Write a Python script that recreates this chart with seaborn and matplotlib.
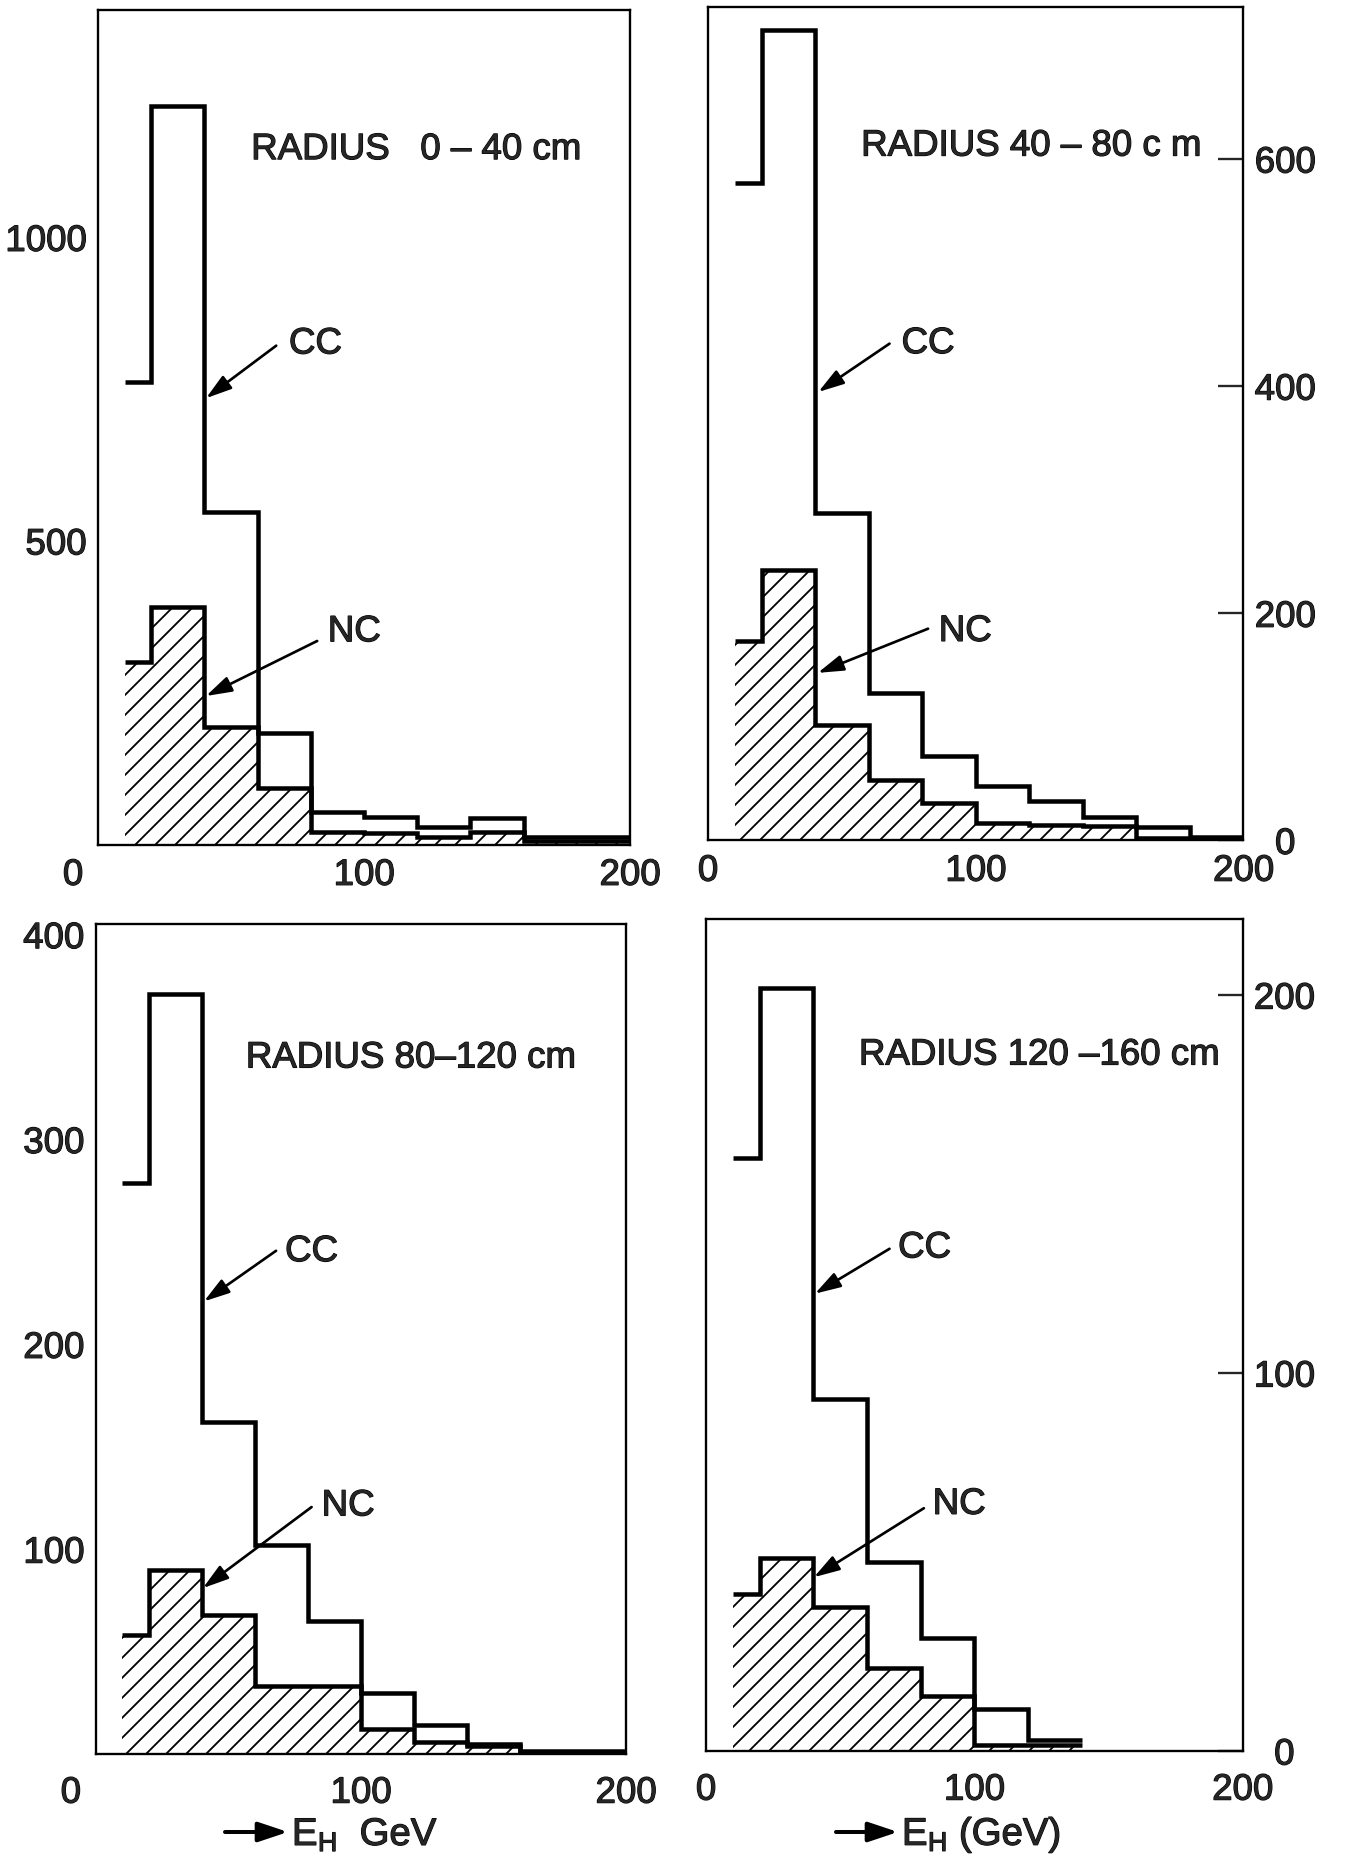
import numpy as np
import pandas as pd
import matplotlib
matplotlib.use("Agg")
import matplotlib.pyplot as plt
import matplotlib.patheffects as pe
import seaborn as sns
from matplotlib.transforms import ScaledTranslation

# ---------------- data ----------------
edges_r1 = [10, 20, 40, 60, 80, 100, 120, 140, 160, 200]
cc_r1 = [761, 1217, 547, 183, 54, 45, 29, 43, 13]
nc_r1 = [301, 392, 194, 93, 20, 19, 13, 20, 5]

edges_r2 = [10, 20, 40, 60, 80, 100, 120, 140, 160, 180, 200]
cc_r2 = [579, 714, 288, 130, 74, 48, 35, 21, 12, 3]
nc_r2 = [176, 238, 102, 53, 33, 15, 14, 13, 2, 1]

edges_r3 = [10, 20, 40, 60, 80, 100, 120, 140, 160, 200]
cc_r3 = [279, 371, 162, 102, 65, 30, 14, 5, 1.5]
nc_r3 = [58, 90, 68, 33, 33, 12, 6, 4, 0.5]

edges_r4 = [10, 20, 40, 60, 80, 100, 120, 140]
cc_r4 = [157, 202, 93, 50, 30, 11, 3]
nc_r4 = [41.5, 51, 38, 22, 14.5, 1.5, 1.5]

titles = ["RADIUS   0 – 40 cm", "RADIUS 40 – 80 c m", "RADIUS 80–120 cm", "RADIUS 120 –160 cm"]
yticks_list = [[500, 1000], [0, 200, 400, 600], [100, 200, 300, 400], [0, 100, 200]]
ytop_list = [1374, 734, 405, 220]
xticks = [0, 100, 200]
x_label_3 = r"E$_{\mathrm{H}}$  GeV"
x_label_4 = r"E$_{\mathrm{H}}$ (GeV)"

panels = [
    (edges_r1, cc_r1, nc_r1),
    (edges_r2, cc_r2, nc_r2),
    (edges_r3, cc_r3, nc_r3),
    (edges_r4, cc_r4, nc_r4),
]

# ---------------- style ----------------
sns.set_theme(style="white")
plt.rcParams["font.family"] = ["Liberation Sans", "DejaVu Sans"]
plt.rcParams["mathtext.fontset"] = "custom"
plt.rcParams["mathtext.rm"] = "Liberation Sans"
plt.rcParams["mathtext.it"] = "Liberation Sans:italic"
plt.rcParams["hatch.linewidth"] = 1.1
plt.rcParams["hatch.color"] = "black"
plt.rcParams["axes.edgecolor"] = "black"
plt.rcParams["axes.linewidth"] = 1.3

DPI = 120
fig = plt.figure(figsize=(1345 / DPI, 1859 / DPI), dpi=DPI)
fig.patch.set_facecolor("white")

BOLDISH = [pe.withStroke(linewidth=0.7, foreground="black")]

positions = [
    [0.07286, 0.54572, 0.39554, 0.44874],
    [0.52639, 0.54793, 0.39814, 0.44836],
    [0.07123, 0.05648, 0.39420, 0.44626],
    [0.52491, 0.05810, 0.39896, 0.44728],
]
right_axis = [False, True, False, True]
title_pos = [(0.288, 0.833), (0.286, 0.833), (0.283, 0.839), (0.285, 0.837)]
cc_txt = [(0.359, 0.600), (0.3615, 0.596), (0.357, 0.6055), (0.358, 0.605)]
cc_tail = [(0.335, 0.598), (0.339, 0.596), (0.340, 0.6066), (0.342, 0.604)]
cc_head = [(0.203, 0.535), (0.206, 0.538), (0.204, 0.5456), (0.203, 0.550)]
nc_txt = [(0.432, 0.255), (0.431, 0.2507), (0.426, 0.299), (0.4225, 0.2966)]
nc_tail = [(0.412, 0.244), (0.411, 0.254), (0.407, 0.2977), (0.406, 0.292)]
nc_head = [(0.203, 0.178), (0.205, 0.201), (0.202, 0.200), (0.201, 0.209)]
xpad = [8.0, 8.0, 13.0, 13.0]

FS = 22
LW = 2.7

for i, (edges, cc, nc) in enumerate(panels):
    ax = fig.add_axes(positions[i])
    e = np.asarray(edges, dtype=float)
    centers = (e[:-1] + e[1:]) / 2
    df = pd.DataFrame({"E": centers, "CC": cc, "NC": nc})
    bins = [float(v) for v in edges]

    # NC hatched area
    sns.histplot(data=df, x="E", weights="NC", bins=bins, element="step",
                 fill=True, color="black", hatch="//", facecolor="none",
                 edgecolor="black", linewidth=0, ax=ax)
    # NC outline
    sns.histplot(data=df, x="E", weights="NC", bins=bins, element="step",
                 fill=False, color="black", linewidth=LW, ax=ax,
                 solid_joinstyle="miter", solid_capstyle="butt")
    # CC outline
    sns.histplot(data=df, x="E", weights="CC", bins=bins, element="step",
                 fill=False, color="black", linewidth=LW, ax=ax,
                 solid_joinstyle="miter", solid_capstyle="butt")

    ax.set_xlim(0, 200)
    ax.set_ylim(0, ytop_list[i])
    ax.set_xlabel("")
    ax.set_ylabel("")
    ax.set_xticks(xticks)
    ax.set_xticklabels([str(v) for v in xticks], fontsize=FS)
    ax.tick_params(axis="x", length=0, pad=xpad[i])
    ax.set_yticks(yticks_list[i])
    ax.set_yticklabels([str(v) for v in yticks_list[i]], fontsize=FS)
    for s in ax.spines.values():
        s.set_linewidth(1.4)
        s.set_color("black")

    if right_axis[i]:
        ax.yaxis.tick_right()
        ax.tick_params(axis="y", direction="in", length=15, width=1.4, pad=25)
        for lab in ax.get_yticklabels():
            lab.set_horizontalalignment("center")
    else:
        ax.tick_params(axis="y", direction="in", length=12, width=1.4, pad=7)
        # the "0" at the corner sits to the left of the frame
        lab0 = ax.get_xticklabels()[0]
        lab0.set_transform(lab0.get_transform() +
                           ScaledTranslation(-25 / DPI, 0, fig.dpi_scale_trans))
    for lab in ax.get_xticklabels() + ax.get_yticklabels():
        lab.set_path_effects(BOLDISH)

    ax.text(*title_pos[i], titles[i], transform=ax.transAxes, fontsize=FS,
            ha="left", va="center", path_effects=BOLDISH)
    ax.text(*cc_txt[i], "CC", transform=ax.transAxes, fontsize=FS,
            ha="left", va="center", path_effects=BOLDISH)
    ax.text(*nc_txt[i], "NC", transform=ax.transAxes, fontsize=FS,
            ha="left", va="center", path_effects=BOLDISH)
    arr = dict(arrowstyle="-|>,head_length=0.65,head_width=0.2", lw=1.6,
               color="black", mutation_scale=20, shrinkA=0, shrinkB=0)
    ax.annotate("", xy=cc_head[i], xytext=cc_tail[i], xycoords="axes fraction",
                textcoords="axes fraction", arrowprops=arr)
    ax.annotate("", xy=nc_head[i], xytext=nc_tail[i], xycoords="axes fraction",
                textcoords="axes fraction", arrowprops=arr)

# axis captions with arrows below the bottom panels
big_arr = dict(arrowstyle="-|>,head_length=0.75,head_width=0.25", lw=2.4,
               color="black", mutation_scale=20, shrinkA=0, shrinkB=0)
fig.add_artist(matplotlib.patches.FancyArrowPatch(
    (225 / 1345, 27 / 1859), (288 / 1345, 27 / 1859),
    transform=fig.transFigure, **big_arr))
fig.add_artist(matplotlib.patches.FancyArrowPatch(
    (836 / 1345, 27 / 1859), (898 / 1345, 27 / 1859),
    transform=fig.transFigure, **big_arr))
fig.text(292 / 1345, 14 / 1859, x_label_3, fontsize=FS + 1, ha="left",
         va="baseline", path_effects=BOLDISH)
fig.text(902 / 1345, 14 / 1859, x_label_4, fontsize=FS + 1, ha="left",
         va="baseline", path_effects=BOLDISH)

fig.savefig("out.png", dpi=DPI, facecolor="white")
